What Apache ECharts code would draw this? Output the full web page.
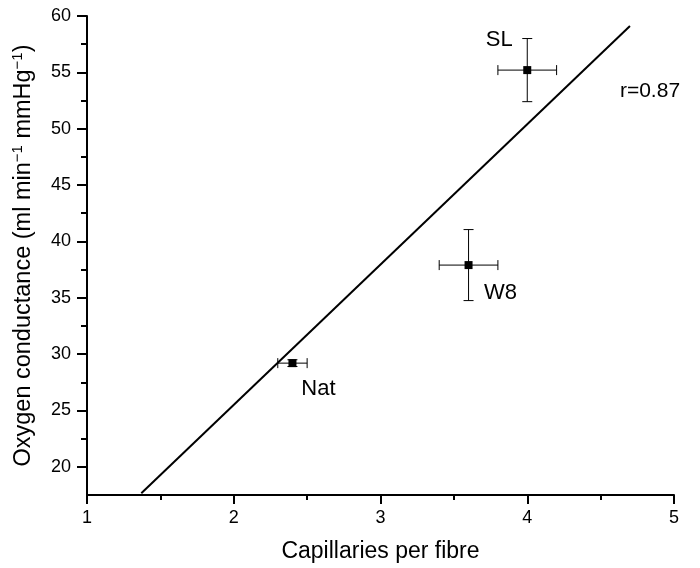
<!DOCTYPE html>
<html>
<head>
<meta charset="utf-8">
<script src="https://cdn.jsdelivr.net/npm/echarts@6/dist/echarts.min.js"></script>
<style>html,body{margin:0;padding:0;background:#fff}#c{width:700px;height:568px}</style>
</head>
<body>
<div id="c"></div>
<script>
var groups = ['SL', 'W8', 'Nat'];
var capillaries = [4.0, 3.6, 2.4];
var conductance = [55.2, 37.9, 29.2];
var xErr = [0.2, 0.2, 0.1];
var yErr = [2.8, 3.15, 0.3];
var fitX = [1.37, 4.70];
var fitY = [17.66, 59.11];
var xTicks = [1, 2, 3, 4, 5];
var yTicks = [20, 25, 30, 35, 40, 45, 50, 55, 60];
var yMinorTicks = [22.5, 27.5, 32.5, 37.5, 42.5, 47.5, 52.5, 57.5];
var rText = 'r=0.87';

var FONT = '"Liberation Sans", Arial, Helvetica, sans-serif';
var labelOffsets = [[-28, -30], [32, 28], [26, 26]];

var chart = echarts.init(document.getElementById('c'), null, {renderer: 'canvas'});

var points = groups.map(function (g, i) {
  return {
    value: [capillaries[i], conductance[i]],
    name: g,
    label: {show: true, formatter: g, position: 'inside', offset: labelOffsets[i],
      color: '#000', fontSize: 22, fontFamily: FONT, textBorderWidth: 0}
  };
});
var errData = groups.map(function (g, i) {
  return [capillaries[i], conductance[i], xErr[i], yErr[i]];
});

var option = {
  animation: false,
  backgroundColor: '#fff',
  grid: {left: 87, right: 26, top: 16, bottom: 73, containLabel: false},
  xAxis: {
    type: 'value', min: xTicks[0], max: xTicks[xTicks.length - 1], interval: 1,
    name: 'Capillaries per fibre', nameLocation: 'middle', nameGap: 45,
    nameTextStyle: {fontSize: 23, fontFamily: FONT, color: '#000'},
    axisLine: {show: true, lineStyle: {color: '#000', width: 2}},
    axisTick: {show: true, length: 9, inside: false, lineStyle: {color: '#000', width: 2}},
    minorTick: {show: true, splitNumber: 2, length: 5, lineStyle: {color: '#000', width: 2}},
    axisLabel: {fontSize: 18, fontFamily: FONT, color: '#000', margin: 14},
    splitLine: {show: false}
  },
  yAxis: [{
    type: 'value', min: 17.5, max: 60,
    name: 'Oxygen conductance (ml min{sup|\u22121} mmHg{sup|\u22121})',
    nameLocation: 'middle', nameRotate: 90, nameGap: 50,
    nameTextStyle: {fontSize: 23.5, fontFamily: FONT, color: '#000',
      rich: {sup: {fontSize: 15, fontFamily: FONT, color: '#000', verticalAlign: 'top', padding: [0, 0, 12, 0]}}},
    axisLine: {show: true, lineStyle: {color: '#000', width: 2}},
    axisTick: {show: true, length: 10, customValues: yTicks, lineStyle: {color: '#000', width: 2}},
    axisLabel: {fontSize: 18, fontFamily: FONT, color: '#000', margin: 16, customValues: yTicks},
    splitLine: {show: false}
  }, {
    type: 'value', min: 17.5, max: 60, position: 'left',
    axisLine: {show: false},
    axisTick: {show: true, length: 6, customValues: yMinorTicks, lineStyle: {color: '#000', width: 2}},
    axisLabel: {show: false},
    splitLine: {show: false}
  }],
  series: [{
    type: 'line',
    data: [[fitX[0], fitY[0]], [fitX[1], fitY[1]]],
    symbol: 'none',
    lineStyle: {color: '#000', width: 2},
    z: 2
  }, {
    type: 'custom',
    data: errData,
    renderItem: function (params, api) {
      var x = api.value(0), y = api.value(1), dx = api.value(2), dy = api.value(3);
      var l = api.coord([x - dx, y]), r = api.coord([x + dx, y]);
      var t = api.coord([x, y + dy]), b = api.coord([x, y - dy]);
      var cap = 5;
      var st = {stroke: '#000', lineWidth: 1};
      return {
        type: 'group',
        children: [
          {type: 'line', shape: {x1: l[0], y1: l[1], x2: r[0], y2: r[1]}, style: st},
          {type: 'line', shape: {x1: l[0], y1: l[1] - cap, x2: l[0], y2: l[1] + cap}, style: st},
          {type: 'line', shape: {x1: r[0], y1: r[1] - cap, x2: r[0], y2: r[1] + cap}, style: st},
          {type: 'line', shape: {x1: t[0], y1: t[1], x2: b[0], y2: b[1]}, style: st},
          {type: 'line', shape: {x1: t[0] - cap, y1: t[1], x2: t[0] + cap, y2: t[1]}, style: st},
          {type: 'line', shape: {x1: b[0] - cap, y1: b[1], x2: b[0] + cap, y2: b[1]}, style: st}
        ]
      };
    },
    z: 3
  }, {
    type: 'scatter',
    data: points,
    symbol: 'rect',
    symbolSize: 8,
    itemStyle: {color: '#000', opacity: 1},
    z: 4
  }],
  graphic: [{
    type: 'text', x: 650, y: 91,
    style: {text: rText, fontSize: 21, fontFamily: FONT, fill: '#000', align: 'center', verticalAlign: 'middle'}
  }]
};
chart.setOption(option);
</script>
</body>
</html>
